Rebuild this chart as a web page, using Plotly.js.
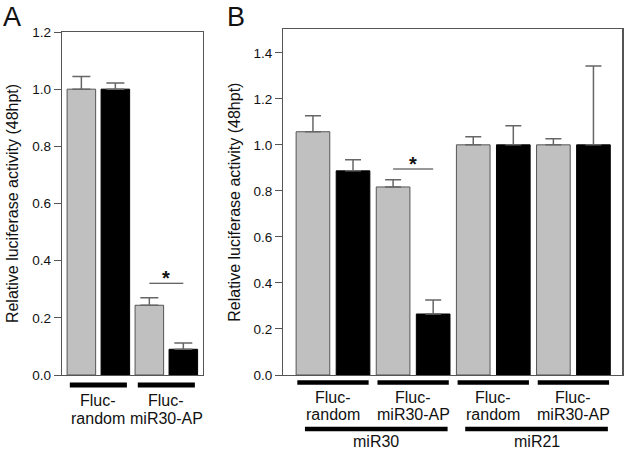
<!DOCTYPE html>
<html><head><meta charset="utf-8">
<script src="https://cdn.plot.ly/plotly-3.0.1.min.js"></script>
<style>html,body{margin:0;padding:0;background:#fff}</style>
</head><body><div id="chart" style="width:630px;height:452px"></div>
<script>
// ---- Panel A data ----
const aTopLines = ['Fluc-', 'Fluc-'];
const aBottomLines = ['random', 'miR30-AP'];
const aGray = [1.0, 0.244];
const aGrayErr = [0.044, 0.026];
const aBlack = [1.0, 0.090];
const aBlackErr = [0.022, 0.022];
const aSigCat = 1, aSigY = 0.321;
// ---- Panel B data ----
const bTopLines = ['Fluc-', 'Fluc-', 'Fluc-', 'Fluc-'];
const bBottomLines = ['random', 'miR30-AP', 'random', 'miR30-AP'];
const bGroups = ['miR30', 'miR21'];
const bGray = [1.057, 0.817, 1.0, 1.0];
const bGrayErr = [0.069, 0.031, 0.035, 0.026];
const bBlack = [0.887, 0.265, 1.0, 1.0];
const bBlackErr = [0.048, 0.061, 0.083, 0.343];
const bSigCat = 1, bSigY = 0.895;
const yTitle = 'Relative luciferase activity (48hpt)';
const panelLetters = ['A', 'B'];

const W = 630, H = 452;
const py = p => (H - p) / H;
const GRAY = '#c0c0c0', FRAME = '#555', TXT = '#111';
const FONT = 'Liberation Sans, Arial, sans-serif';

function barTrace(vals, errs, color, line, xa, ya, capw) {
  return {
    type: 'bar', x: vals.map((_, i) => i), y: vals, xaxis: xa, yaxis: ya,
    marker: {color: color, line: {color: line, width: 1}},
    error_y: {type: 'data', array: errs, arrayminus: errs.map(() => 0), symmetric: false,
              color: '#666', thickness: 1.5, width: capw},
    showlegend: false, hoverinfo: 'skip'
  };
}

const data = [
  barTrace(aGray, aGrayErr, GRAY, FRAME, 'x', 'y', 9),
  barTrace(aBlack, aBlackErr, '#000', '#000', 'x', 'y', 9),
  barTrace(bGray, bGrayErr, GRAY, FRAME, 'x2', 'y2', 8),
  barTrace(bBlack, bBlackErr, '#000', '#000', 'x2', 'y2', 8)
];

const LBL = 16;
const shapes = [], annotations = [];
// significance lines between bar centres of the marked pair
shapes.push({type: 'line', xref: 'x', yref: 'y', x0: aSigCat - 0.25, x1: aSigCat + 0.25, y0: aSigY, y1: aSigY, line: {color: '#333', width: 1.2}});
shapes.push({type: 'line', xref: 'x2', yref: 'y2', x0: bSigCat - 0.25, x1: bSigCat + 0.25, y0: bSigY, y1: bSigY, line: {color: '#333', width: 1.2}});
annotations.push({xref: 'x', yref: 'y', x: aSigCat, y: aSigY, text: '<b>*</b>', showarrow: false, yanchor: 'bottom', yshift: -8, font: {size: 20, color: TXT, family: FONT}});
annotations.push({xref: 'x2', yref: 'y2', x: bSigCat, y: bSigY, text: '<b>*</b>', showarrow: false, yanchor: 'bottom', yshift: -8, font: {size: 20, color: TXT, family: FONT}});

// category underlines + labels
aTopLines.forEach((t, i) => {
  shapes.push({type: 'line', xref: 'x', yref: 'paper', x0: i - 0.42, x1: i + 0.42, y0: py(385), y1: py(385), line: {color: '#000', width: 5}});
  annotations.push({xref: 'x', yref: 'paper', x: i, y: py(400), text: t, showarrow: false, yanchor: 'middle', font: {size: LBL, color: TXT, family: FONT}});
  annotations.push({xref: 'x', yref: 'paper', x: i, y: py(418), text: aBottomLines[i], showarrow: false, yanchor: 'middle', font: {size: LBL, color: TXT, family: FONT}});
});
bTopLines.forEach((t, i) => {
  shapes.push({type: 'line', xref: 'x2', yref: 'paper', x0: i - 0.445, x1: i + 0.445, y0: py(382.5), y1: py(382.5), line: {color: '#000', width: 4.5}});
  annotations.push({xref: 'x2', yref: 'paper', x: i, y: py(397.5), text: t, showarrow: false, yanchor: 'middle', font: {size: LBL, color: TXT, family: FONT}});
  annotations.push({xref: 'x2', yref: 'paper', x: i, y: py(414.5), text: bBottomLines[i], showarrow: false, yanchor: 'middle', font: {size: LBL, color: TXT, family: FONT}});
});
bGroups.forEach((g, j) => {
  const c = 2 * j + 0.54;
  shapes.push({type: 'line', xref: 'x2', yref: 'paper', x0: c - 0.89, x1: c + 0.89, y0: py(429), y1: py(429), line: {color: '#000', width: 4.5}});
  annotations.push({xref: 'x2', yref: 'paper', x: c, y: 0, text: g, showarrow: false, yanchor: 'bottom', font: {size: LBL, color: TXT, family: FONT}});
});
// panel letters
annotations.push({xref: 'paper', yref: 'paper', x: 1 / W, y: py(17), text: panelLetters[0], showarrow: false, xanchor: 'left', yanchor: 'middle', font: {size: 27, color: TXT, family: FONT}});
annotations.push({xref: 'paper', yref: 'paper', x: 225 / W, y: py(17), text: panelLetters[1], showarrow: false, xanchor: 'left', yanchor: 'middle', font: {size: 27, color: TXT, family: FONT}});

const yaxBase = {
  showline: true, mirror: true, linecolor: FRAME, linewidth: 1.2, zeroline: false, showgrid: false,
  ticks: 'outside', ticklen: 7, tickwidth: 1, tickcolor: FRAME, dtick: 0.2, tick0: 0, tickformat: '.1f',
  tickfont: {size: 13.5, color: TXT, family: FONT},
  title: {text: yTitle, font: {size: 16, color: TXT, family: FONT}, standoff: 9}
};
const xaxBase = {showline: true, mirror: true, linecolor: FRAME, linewidth: 1.2, showticklabels: false, ticks: '', zeroline: false, showgrid: false};

const layout = {
  width: W, height: H, margin: {l: 0, r: 0, t: 0, b: 0},
  paper_bgcolor: '#fff', plot_bgcolor: '#fff',
  barmode: 'group', bargap: 0, bargroupgap: 0.16,
  font: {family: FONT, color: TXT},
  xaxis: Object.assign({}, xaxBase, {domain: [62 / W, 202.7 / W], range: [-0.535, 1.535], anchor: 'y'}),
  yaxis: Object.assign({}, yaxBase, {domain: [py(375), py(32)], range: [0, 1.2], anchor: 'x'}),
  xaxis2: Object.assign({}, xaxBase, {domain: [283.3 / W, 622.3 / W], range: [-0.62, 3.61], anchor: 'y2'}),
  yaxis2: Object.assign({}, yaxBase, {domain: [py(375), py(29.3)], range: [0, 1.502], anchor: 'x2'}),
  shapes: shapes, annotations: annotations
};

Plotly.newPlot('chart', data, layout, {staticPlot: true, displayModeBar: false});
</script></body></html>
